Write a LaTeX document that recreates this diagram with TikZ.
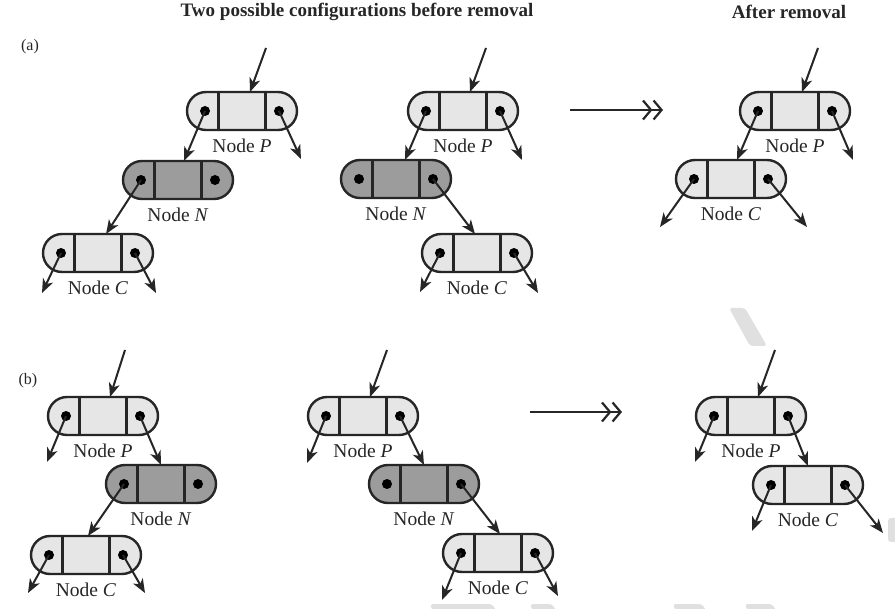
\documentclass[tikz,border=0pt]{standalone}
\usepackage{fontspec}
\setmainfont{Liberation Serif}
\usetikzlibrary{arrows.meta,calc,shapes.misc}

\definecolor{cellfill}{HTML}{E6E6E6}
\definecolor{darkfill}{HTML}{9C9C9C}
\definecolor{ink}{HTML}{262626}
\definecolor{wmark}{HTML}{E0E0E0}

\tikzset{
  cell/.style={rounded rectangle, draw=ink, line width=2.4pt,
    minimum width=110pt, minimum height=38pt, inner sep=0pt, outer sep=0pt},
  divider/.style={draw=ink, line width=2.2pt},
  ptr/.style={draw=ink, line width=2pt,
    -{Stealth[length=14pt,width=11pt,inset=4pt]}},
  gives/.style={draw=ink, line width=2.2pt,
    -{Straight Barb[length=8pt,width=19pt,line width=2.2pt]Straight Barb[length=8pt,width=19pt,line width=2.2pt]}},
  lbl/.style={font=\fontsize{19.5}{22}\selectfont, text=ink},
  head/.style={font=\fontsize{19}{22}\selectfont\bfseries, text=ink},
  part/.style={font=\fontsize{16}{18}\selectfont, text=ink},
  wm/.style={fill=wmark, rounded corners=3pt},
}

% a three-field list node: name, centre, fill colour, letter
\newcommand\listnode[4]{%
  \node[cell, fill=#3] (#1) at #2 {};
  \draw[divider] ($(#1.north)+(-23.5,0)$) -- ($(#1.south)+(-23.5,0)$);
  \draw[divider] ($(#1.north)+(23.5,0)$) -- ($(#1.south)+(23.5,0)$);
  \coordinate (#1-l) at ($(#1.center)+(-37,0)$);
  \coordinate (#1-r) at ($(#1.center)+(37,0)$);
  \fill[black] (#1-l) circle (5pt) (#1-r) circle (5pt);
  \node[lbl] (#1-t) at ($(#1.center)+(0,35)$) {Node \textit{#4}};
}

\begin{document}
\begin{tikzpicture}[x=1pt, y=-1pt]
\useasboundingbox (0,0) rectangle (895,609);
\fill[white] (0,0) rectangle (895,609);

% faint background marks
\fill[wm] (729,308) -- (745,308) -- (767,346) -- (750,346) -- cycle;
\fill[wm] (888,518) rectangle (897,542);
\fill[wm] (430,604) -- (492,604) -- (497,612) -- (433,612) -- cycle;
\fill[wm] (530,604) -- (552,604) -- (557,612) -- (533,612) -- cycle;
\fill[wm] (673,604) -- (702,604) -- (707,612) -- (676,612) -- cycle;
\fill[wm] (745,604) -- (772,604) -- (777,612) -- (748,612) -- cycle;

% headings
\node[head] (h1) at (357,12) {Two possible configurations before removal};
\node[head] (h2) at (789,12) {After removal};
\node[part] (pa) at (30,47) {(a)};
\node[part] (pb) at (28,381) {(b)};

% ---------- (a) ----------
\listnode{P1}{(242,111)}{cellfill}{P}
\listnode{N1}{(178,180)}{darkfill}{N}
\listnode{C1}{(98,253)}{cellfill}{C}
\coordinate (P1-in) at (266,48);
\coordinate (P1-re) at (301,159);
\coordinate (C1-le) at (42,293);
\coordinate (C1-re) at (156,293);
\draw[ptr] (P1-in) -- ([xshift=8pt]P1.north);
\draw[ptr] (P1-l) -- ([xshift=6pt]N1.north);
\draw[ptr] (P1-r) -- (P1-re);
\draw[ptr] (N1-l) -- ([xshift=8pt]C1.north);
\draw[ptr] (C1-l) -- (C1-le);
\draw[ptr] (C1-r) -- (C1-re);

\listnode{P2}{(463,111)}{cellfill}{P}
\listnode{N2}{(396,179)}{darkfill}{N}
\listnode{C2}{(477,253)}{cellfill}{C}
\coordinate (P2-in) at (486,48);
\coordinate (P2-re) at (522,160);
\coordinate (C2-le) at (420,292);
\coordinate (C2-re) at (538,293);
\draw[ptr] (P2-in) -- ([xshift=7pt]P2.north);
\draw[ptr] (P2-l) -- ([xshift=9pt]N2.north);
\draw[ptr] (P2-r) -- (P2-re);
\draw[ptr] (N2-r) -- ([xshift=-2pt]C2.north);
\draw[ptr] (C2-l) -- (C2-le);
\draw[ptr] (C2-r) -- (C2-re);

\coordinate (ga1) at (570,110);
\coordinate (ga2) at (663,110);
\draw[gives] (ga1) -- (ga2);

\listnode{P3}{(795,111)}{cellfill}{P}
\listnode{C3}{(731,179)}{cellfill}{C}
\coordinate (P3-in) at (818,48);
\coordinate (P3-re) at (853,160);
\coordinate (C3-le) at (660,227);
\coordinate (C3-re) at (807,227);
\draw[ptr] (P3-in) -- ([xshift=7pt]P3.north);
\draw[ptr] (P3-l) -- ([xshift=6pt]C3.north);
\draw[ptr] (P3-r) -- (P3-re);
\draw[ptr] (C3-l) -- (C3-le);
\draw[ptr] (C3-r) -- (C3-re);

% ---------- (b) ----------
\listnode{P4}{(103,416)}{cellfill}{P}
\listnode{N4}{(161,484)}{darkfill}{N}
\listnode{C4}{(86,555)}{cellfill}{C}
\coordinate (P4-in) at (125,350);
\coordinate (P4-le) at (47,462);
\coordinate (C4-le) at (28,593);
\coordinate (C4-re) at (145,593);
\draw[ptr] (P4-in) -- ([xshift=7pt]P4.north);
\draw[ptr] (P4-l) -- (P4-le);
\draw[ptr] (P4-r) -- (N4.north);
\draw[ptr] (N4-l) -- ([xshift=2pt]C4.north);
\draw[ptr] (C4-l) -- (C4-le);
\draw[ptr] (C4-r) -- (C4-re);

\listnode{P5}{(363,416)}{cellfill}{P}
\listnode{N5}{(424,484)}{darkfill}{N}
\listnode{C5}{(498,553)}{cellfill}{C}
\coordinate (P5-in) at (387,350);
\coordinate (P5-le) at (307,463);
\coordinate (C5-le) at (442,600);
\coordinate (C5-re) at (558,596);
\draw[ptr] (P5-in) -- ([xshift=7pt]P5.north);
\draw[ptr] (P5-l) -- (P5-le);
\draw[ptr] (P5-r) -- (N5.north);
\draw[ptr] (N5-r) -- ([xshift=2pt]C5.north);
\draw[ptr] (C5-l) -- (C5-le);
\draw[ptr] (C5-r) -- (C5-re);

\coordinate (gb1) at (530,412);
\coordinate (gb2) at (622,412);
\draw[gives] (gb1) -- (gb2);

\listnode{P6}{(751,416)}{cellfill}{P}
\listnode{C6}{(808,485)}{cellfill}{C}
\coordinate (P6-in) at (775,350);
\coordinate (P6-le) at (695,462);
\coordinate (C6-le) at (752,531);
\coordinate (C6-re) at (883,533);
\draw[ptr] (P6-in) -- ([xshift=7pt]P6.north);
\draw[ptr] (P6-l) -- (P6-le);
\draw[ptr] (P6-r) -- (C6.north);
\draw[ptr] (C6-l) -- (C6-le);
\draw[ptr] (C6-r) -- (C6-re);
\end{tikzpicture}
\end{document}
